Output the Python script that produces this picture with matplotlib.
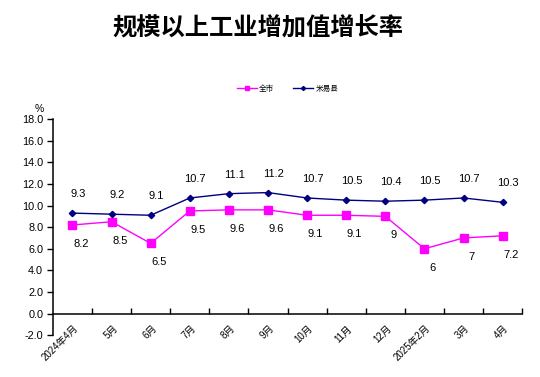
import matplotlib
matplotlib.use("Agg")
import matplotlib.pyplot as plt

plt.rcParams["font.family"] = ["Liberation Sans", "Noto Sans CJK SC"]

months = ["2024年4月", "5月", "6月", "7月", "8月", "9月", "10月", "11月",
          "12月", "2025年2月", "3月", "4月"]
city = [8.2, 8.5, 6.5, 9.5, 9.6, 9.6, 9.1, 9.1, 9, 6, 7, 7.2]
county = [9.3, 9.2, 9.1, 10.7, 11.1, 11.2, 10.7, 10.5, 10.4, 10.5, 10.7, 10.3]
city_labels = ["8.2", "8.5", "6.5", "9.5", "9.6", "9.6", "9.1", "9.1", "9", "6", "7", "7.2"]
county_labels = ["9.3", "9.2", "9.1", "10.7", "11.1", "11.2", "10.7", "10.5",
                 "10.4", "10.5", "10.7", "10.3"]

MAGENTA = "#FF00FF"
NAVY = "#000080"

fig = plt.figure(figsize=(5.4, 3.77), dpi=100)
ax = fig.add_axes([0.098, 0.111, 0.869, 0.573])

x = list(range(len(months)))
ax.plot(x, city, color=MAGENTA, lw=1.0, marker="s", ms=5.5, label="全市")
ax.plot(x, county, color=NAVY, lw=1.0, marker="D", ms=3.2, label="米易县")

for i, (v, t) in enumerate(zip(city, city_labels)):
    ax.annotate(t, (i, v), xytext=(6, -10), textcoords="offset points",
                ha="center", va="top", fontsize=8)
for i, (v, t) in enumerate(zip(county, county_labels)):
    ax.annotate(t, (i, v), xytext=(4, 10), textcoords="offset points",
                ha="center", va="bottom", fontsize=8)

ax.set_xlim(-0.5, len(months) - 0.5)
ax.set_ylim(-2, 18)
ax.set_yticks(range(-2, 19, 2))
ax.set_yticklabels([f"{v:.1f}" for v in range(-2, 19, 2)], fontsize=7.8)
ax.tick_params(axis="y", direction="out", length=4, width=1, pad=3)

ax.spines["top"].set_visible(False)
ax.spines["right"].set_visible(False)
ax.spines["bottom"].set_position(("data", 0))
ax.spines["left"].set_linewidth(1.1)
ax.spines["bottom"].set_linewidth(1.1)
ax.set_xticks([i + 0.5 for i in x])
ax.set_xticklabels([])
ax.tick_params(axis="x", direction="in", length=4, width=1)

for i, m in enumerate(months):
    ax.text(i + 0.02, -0.9, m, rotation=45, rotation_mode="anchor",
            ha="right", va="top", fontsize=7)

ax.text(-0.02, 1.025, "%", transform=ax.transAxes, ha="right", va="bottom",
        fontsize=7.5)

ax.legend(loc="center", bbox_to_anchor=(0.5, 1.14), ncol=2, frameon=False,
          fontsize=5.5, handlelength=2.6, columnspacing=2.5, handletextpad=0.3,
          markerscale=0.65)

fig.text(0.478, 0.925, "规模以上工业增加值增长率", ha="center", va="center",
         fontsize=17.5, fontweight="bold", family=["Noto Sans CJK SC"])

fig.savefig("out.png", dpi=100)
